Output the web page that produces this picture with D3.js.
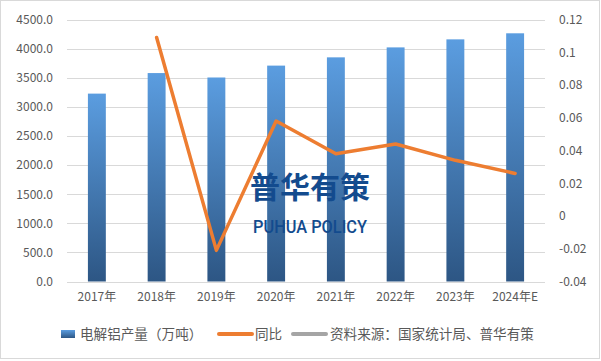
<!DOCTYPE html>
<html>
<head>
<meta charset="utf-8">
<script src="https://cdn.jsdelivr.net/npm/d3@7"></script>
<style>
  body { margin: 0; background: #fff; }
  svg { display: block; font-family: "Noto Sans CJK SC", "Noto Sans", sans-serif; }
</style>
</head>
<body>
<div id="chart"></div>
<script>
// Daten
const years = ["2017年", "2018年", "2019年", "2020年", "2021年", "2022年", "2023年", "2024年E"];
const output = [3227, 3580, 3504, 3708, 3850, 4021, 4159, 4263];   // 电解铝产量（万吨）
const yoy = [null, 0.109, -0.021, 0.058, 0.038, 0.044, 0.034, 0.026]; // 同比
const leftTicks = [0, 500, 1000, 1500, 2000, 2500, 3000, 3500, 4000, 4500];
const rightTicks = [-0.04, -0.02, 0, 0.02, 0.04, 0.06, 0.08, 0.1, 0.12];

const width = 601, height = 361;
const plot = { left: 67, right: 545, top: 19.5, bottom: 281.5 };

const svg = d3.select("#chart").append("svg")
  .attr("width", width)
  .attr("height", height);

// Rahmen
svg.append("rect")
  .attr("x", 0.5).attr("y", 0.5)
  .attr("width", width - 2).attr("height", height - 3)
  .attr("fill", "#fff")
  .attr("stroke", "#d9d9d9");

const defs = svg.append("defs");
const grad = defs.append("linearGradient")
  .attr("id", "barGrad")
  .attr("x1", 0).attr("y1", 0).attr("x2", 0).attr("y2", 1);
grad.append("stop").attr("offset", "0%").attr("stop-color", "#5b9de0");
grad.append("stop").attr("offset", "100%").attr("stop-color", "#2d5684");

const x = d3.scaleBand()
  .domain(years)
  .range([plot.left, plot.right])
  .paddingInner(0.7)
  .paddingOuter(0.35);

const y = d3.scaleLinear()
  .domain([0, 4500])
  .range([plot.bottom, plot.top]);

const y2 = d3.scaleLinear()
  .domain([-0.04, 0.12])
  .range([plot.bottom, plot.top]);

// Gitterlinien
svg.append("g")
  .selectAll("line")
  .data(leftTicks)
  .enter()
  .append("line")
  .attr("x1", plot.left)
  .attr("x2", plot.right)
  .attr("y1", d => Math.round(y(d)) + 0.5)
  .attr("y2", d => Math.round(y(d)) + 0.5)
  .attr("stroke", "#d9d9d9")
  .attr("stroke-width", 1);

// Linke Achse
const axisLeft = svg.append("g")
  .attr("transform", `translate(${plot.left - 14},0)`)
  .call(d3.axisLeft(y).tickValues(leftTicks).tickSize(0).tickPadding(0).tickFormat(d => d.toFixed(1)));
axisLeft.select(".domain").remove();
axisLeft.selectAll("text")
  .attr("fill", "#595959")
  .style("font-size", "12px")
  .style("font-family", "'Noto Sans CJK SC', sans-serif");

// Rechte Achse
const axisRight = svg.append("g")
  .attr("transform", `translate(${plot.right + 14},0)`)
  .call(d3.axisRight(y2).tickValues(rightTicks).tickSize(0).tickPadding(0).tickFormat(d => String(+d.toFixed(2))));
axisRight.select(".domain").remove();
axisRight.selectAll("text")
  .attr("fill", "#595959")
  .style("font-size", "12px")
  .style("font-family", "'Noto Sans CJK SC', sans-serif");

// X-Achse
const axisBottom = svg.append("g")
  .attr("transform", `translate(0,${plot.bottom + 11})`)
  .call(d3.axisBottom(x).tickSize(0).tickPadding(0));
axisBottom.select(".domain").remove();
axisBottom.selectAll("text")
  .attr("fill", "#595959")
  .attr("dy", "0.71em")
  .style("font-size", "12px")
  .style("font-family", "'Noto Sans CJK SC', sans-serif");

// Balken
svg.append("g")
  .selectAll("rect")
  .data(years)
  .enter()
  .append("rect")
  .attr("x", d => x(d))
  .attr("y", (d, i) => y(output[i]))
  .attr("width", x.bandwidth())
  .attr("height", (d, i) => plot.bottom - y(output[i]))
  .attr("fill", "url(#barGrad)");

// Wasserzeichen
svg.append("text")
  .attr("x", 310).attr("y", 198)
  .attr("text-anchor", "middle")
  .attr("fill", "#134b8e")
  .style("font-size", "30px")
  .style("font-weight", "bold")
  .style("font-family", "'Noto Sans CJK SC', sans-serif")
  .text("普华有策");
svg.append("text")
  .attr("x", 310).attr("y", 233)
  .attr("text-anchor", "middle")
  .attr("textLength", 114)
  .attr("lengthAdjust", "spacingAndGlyphs")
  .attr("fill", "#134b8e")
  .style("font-size", "19px")
  .style("font-weight", "500")
  .style("font-family", "Roboto, 'Noto Sans', sans-serif")
  .text("PUHUA POLICY");

// Linie
const line = d3.line()
  .defined(d => d != null)
  .x((d, i) => x(years[i]) + x.bandwidth() / 2)
  .y(d => y2(d));

svg.append("path")
  .datum(yoy)
  .attr("d", line)
  .attr("fill", "none")
  .attr("stroke", "#ed7d31")
  .attr("stroke-width", 3.5)
  .attr("stroke-linejoin", "round")
  .attr("stroke-linecap", "round");

// Legende
const legendY = 334;
const legend = svg.append("g").style("font-size", "13.6px").attr("fill", "#595959");
legend.append("rect")
  .attr("x", 61).attr("y", legendY - 4)
  .attr("width", 14).attr("height", 8)
  .attr("fill", "url(#barGrad)");
legend.append("text").attr("x", 80).attr("y", legendY).attr("dy", "0.35em").text("电解铝产量（万吨）");
legend.append("line")
  .attr("x1", 219).attr("x2", 252).attr("y1", legendY).attr("y2", legendY)
  .attr("stroke", "#ed7d31").attr("stroke-width", 4).attr("stroke-linecap", "round");
legend.append("text").attr("x", 255).attr("y", legendY).attr("dy", "0.35em").text("同比");
legend.append("line")
  .attr("x1", 293).attr("x2", 326).attr("y1", legendY).attr("y2", legendY)
  .attr("stroke", "#a5a5a5").attr("stroke-width", 4).attr("stroke-linecap", "round");
legend.append("text").attr("x", 330).attr("y", legendY).attr("dy", "0.35em").text("资料来源：国家统计局、普华有策");
</script>
</body>
</html>
